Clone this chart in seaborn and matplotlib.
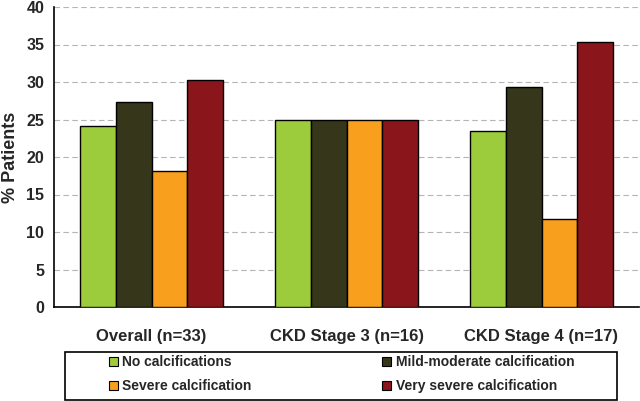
import numpy as np
import pandas as pd
import matplotlib.pyplot as plt
import seaborn as sns
from matplotlib.patches import Rectangle, Patch

# Data
groups = ['Overall (n=33)', 'CKD Stage 3 (n=16)', 'CKD Stage 4 (n=17)']
categories = ['No calcifications', 'Mild-moderate calcification',
              'Severe calcification', 'Very severe calcification']
no_calc = [24.2, 25.0, 23.5]
mild_mod = [27.3, 25.0, 29.4]
severe = [18.2, 25.0, 11.8]
very_severe = [30.3, 25.0, 35.3]
colors = ['#9ccc3c', '#36361b', '#f8a01e', '#8a161b']

rows = []
for cat, vals in zip(categories, [no_calc, mild_mod, severe, very_severe]):
    for g, v in zip(groups, vals):
        rows.append({'Group': g, 'Type': cat, 'Pct': v})
df = pd.DataFrame(rows)

sns.set_style('white')
plt.rcParams['font.family'] = ['Liberation Sans', 'DejaVu Sans']
plt.rcParams['font.weight'] = 'bold'

fig = plt.figure(figsize=(6.4, 4.01), dpi=100)
ax = fig.add_axes([54 / 640, 1 - 307 / 401, 585 / 640, 300 / 401])

sns.barplot(data=df, x='Group', y='Pct', hue='Type', order=groups,
            hue_order=categories, palette=colors, saturation=1, width=0.73,
            edgecolor='black', linewidth=1, ax=ax, legend=False, zorder=3)

ax.set_ylim(0, 40)
ax.set_xlim(-0.5, 2.5)
ax.set_yticks(np.arange(0, 41, 5))
ax.yaxis.grid(True, color='#b5b5b5', linestyle=(0, (5, 3)), linewidth=0.8, zorder=0)
ax.set_axisbelow(True)
for s in ['top', 'right']:
    ax.spines[s].set_visible(False)
for s in ['left', 'bottom']:
    ax.spines[s].set_color('black')
    ax.spines[s].set_linewidth(1.2)

# category boundaries as major ticks, labels on minor ticks
ax.set_xticks([-0.5, 0.5, 1.5, 2.5])
ax.set_xticklabels([])
ax.set_xticks([0, 1, 2], minor=True)
ax.set_xticklabels(groups, minor=True, fontsize=12, fontweight='bold')
ax.tick_params(axis='x', which='major', direction='out', length=5, width=1.2, color='black')
ax.tick_params(axis='x', which='minor', length=0, pad=16)
ax.tick_params(axis='y', direction='out', length=5, width=1.2, color='black',
               labelsize=11.5, pad=2)
for t in ax.get_yticklabels():
    t.set_fontweight('bold')
ax.set_xlabel('')
ax.set_ylabel('% Patients', fontsize=13, fontweight='bold', labelpad=5)

# legend box
fig.patches.append(Rectangle((65 / 640, 1 / 401), 552 / 640, 48 / 401,
                             transform=fig.transFigure, fill=False,
                             edgecolor='black', linewidth=1.2))
order = [0, 2, 1, 3]
handles = [Patch(facecolor=colors[i], edgecolor='black', linewidth=0.8) for i in order]
labels = [categories[i] for i in order]
fig.legend(handles, labels, loc='upper left', bbox_to_anchor=(102 / 640, 1 - 348 / 401),
           ncol=2, frameon=False, borderpad=0, handlelength=0.62, handleheight=0.62,
           handletextpad=0.35, labelspacing=0.72, columnspacing=9.4,
           prop={'size': 10, 'weight': 'bold'})

fig.savefig('out.png', dpi=100)
